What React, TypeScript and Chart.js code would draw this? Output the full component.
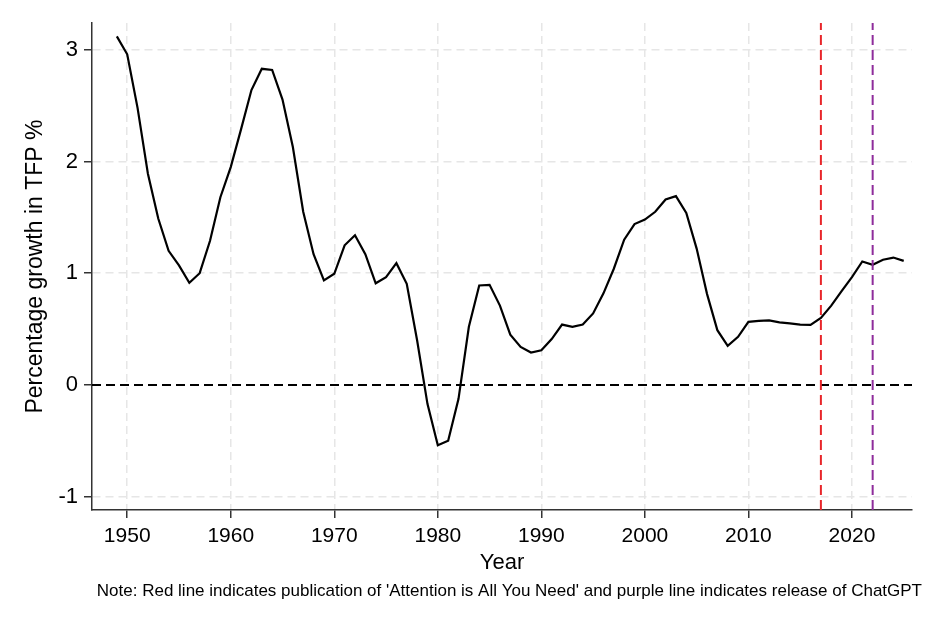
import React, { useEffect, useRef } from "react";
import { Chart, registerables } from "chart.js";

Chart.register(...registerables);

const years: number[] = [
  1949, 1950, 1951, 1952, 1953, 1954, 1955, 1956, 1957, 1958, 1959,
  1960, 1961, 1962, 1963, 1964, 1965, 1966, 1967, 1968, 1969,
  1970, 1971, 1972, 1973, 1974, 1975, 1976, 1977, 1978, 1979,
  1980, 1981, 1982, 1983, 1984, 1985, 1986, 1987, 1988, 1989,
  1990, 1991, 1992, 1993, 1994, 1995, 1996, 1997, 1998, 1999,
  2000, 2001, 2002, 2003, 2004, 2005, 2006, 2007, 2008, 2009,
  2010, 2011, 2012, 2013, 2014, 2015, 2016, 2017, 2018, 2019,
  2020, 2021, 2022, 2023, 2024, 2025,
];

const tfpGrowth: number[] = [
  3.12, 2.96, 2.48, 1.89, 1.49, 1.2, 1.07, 0.914, 1.0, 1.29, 1.68,
  1.95, 2.29, 2.64, 2.83, 2.82, 2.555, 2.13, 1.55, 1.17, 0.935,
  0.995, 1.25, 1.34, 1.17, 0.91, 0.965, 1.09, 0.905, 0.4, -0.17,
  -0.54, -0.5, -0.125, 0.52, 0.89, 0.896, 0.71, 0.45, 0.34, 0.29,
  0.31, 0.41, 0.54, 0.52, 0.54, 0.64, 0.82, 1.04, 1.3, 1.44,
  1.48, 1.55, 1.66, 1.69, 1.54, 1.22, 0.815, 0.49, 0.35, 0.43,
  0.565, 0.574, 0.577, 0.56, 0.55, 0.54, 0.538, 0.6, 0.71, 0.84,
  0.965, 1.105, 1.075, 1.12, 1.14, 1.11,
];

const xTicks: number[] = [1950, 1960, 1970, 1980, 1990, 2000, 2010, 2020];
const yTicks: number[] = [-1, 0, 1, 2, 3];
const xRange: number[] = [1946.6, 2025.8];
const yRange: number[] = [-1.12, 3.24];
const attentionYear = 2017;
const chatGptYear = 2022;

const yTitle = "Percentage growth in TFP %";
const xTitle = "Year";
const noteText =
  "Note: Red line indicates publication of 'Attention is All You Need' and purple line indicates release of ChatGPT";

const FONT = "'Liberation Sans', Arial, sans-serif";

export default function App() {
  const ref = useRef<HTMLCanvasElement | null>(null);

  useEffect(() => {
    document.body.style.margin = "0";
    const canvas = ref.current;
    if (!canvas) return;

    const notePlugin = {
      id: "notePlugin",
      afterDraw(chart: any) {
        const { ctx, chartArea } = chart;
        ctx.save();
        ctx.font = `17px ${FONT}`;
        ctx.fillStyle = "#000";
        ctx.textAlign = "right";
        ctx.textBaseline = "middle";
        ctx.fillText(noteText, chartArea.right + 10, chartArea.bottom + 81);
        ctx.restore();
      },
    };

    const chart = new Chart(canvas, {
      type: "line",
      data: {
        datasets: [
          {
            label: "Attention",
            data: [
              { x: attentionYear, y: yRange[0] },
              { x: attentionYear, y: yRange[1] },
            ],
            borderColor: "#e8262a",
            borderWidth: 2,
            borderDash: [10, 5],
            pointRadius: 0,
            order: 0,
          },
          {
            label: "ChatGPT",
            data: [
              { x: chatGptYear, y: yRange[0] },
              { x: chatGptYear, y: yRange[1] },
            ],
            borderColor: "#8e2c9b",
            borderWidth: 2,
            borderDash: [10, 5],
            pointRadius: 0,
            order: 0,
          },
          {
            label: "TFP growth",
            data: years.map((y, i) => ({ x: y, y: tfpGrowth[i] })),
            borderColor: "#000",
            borderWidth: 2.2,
            pointRadius: 0,
            tension: 0,
            order: 1,
          },
          {
            label: "Zero",
            data: [
              { x: xRange[0], y: 0 },
              { x: xRange[1], y: 0 },
            ],
            borderColor: "#000",
            borderWidth: 2,
            borderDash: [9, 5],
            pointRadius: 0,
            order: 2,
          },
        ],
      },
      options: {
        animation: false,
        responsive: false,
        devicePixelRatio: 1,
        layout: { padding: { top: 23, right: 28, left: 0, bottom: 0 } },
        plugins: {
          legend: { display: false },
          tooltip: { enabled: false },
        },
        scales: {
          x: {
            type: "linear",
            min: xRange[0],
            max: xRange[1],
            afterBuildTicks: (scale: any) => {
              scale.ticks = xTicks.map((v) => ({ value: v }));
            },
            afterFit: (scale: any) => {
              scale.height = 117;
            },
            grid: {
              color: "#e6e6e6",
              lineWidth: 1.5,
              tickColor: "#333",
              tickLength: 8,
              tickWidth: 1.5,
            },
            border: { display: true, color: "#333", width: 1.5, dash: [8, 5] },
            ticks: {
              color: "#000",
              font: { family: FONT, size: 21 },
              padding: 6,
              callback: (v: any) => String(v),
              maxRotation: 0,
            },
            title: {
              display: true,
              text: xTitle,
              color: "#000",
              font: { family: FONT, size: 22 },
              padding: { top: 0, bottom: 51 },
            },
          },
          y: {
            type: "linear",
            min: yRange[0],
            max: yRange[1],
            afterBuildTicks: (scale: any) => {
              scale.ticks = yTicks.map((v) => ({ value: v }));
            },
            afterFit: (scale: any) => {
              scale.width = 92;
            },
            grid: {
              color: (ctx: any) =>
                ctx.tick && ctx.tick.value === 0 ? "rgba(0,0,0,0)" : "#e6e6e6",
              lineWidth: 1.5,
              tickColor: "#333",
              tickLength: 8,
              tickWidth: 1.5,
            },
            border: { display: true, color: "#333", width: 1.5, dash: [8, 5] },
            ticks: {
              color: "#000",
              font: { family: FONT, size: 22 },
              padding: 6,
              callback: (v: any) => String(v),
            },
            title: {
              display: true,
              text: yTitle,
              color: "#000",
              font: { family: FONT, size: 23 },
              padding: { top: 22, bottom: 0 },
            },
          },
        },
      },
      plugins: [notePlugin],
    } as any);

    return () => chart.destroy();
  }, []);

  return (
    <div style={{ width: 940, height: 627, background: "#fff" }}>
      <canvas ref={ref} width={940} height={627} style={{ display: "block" }} />
    </div>
  );
}
